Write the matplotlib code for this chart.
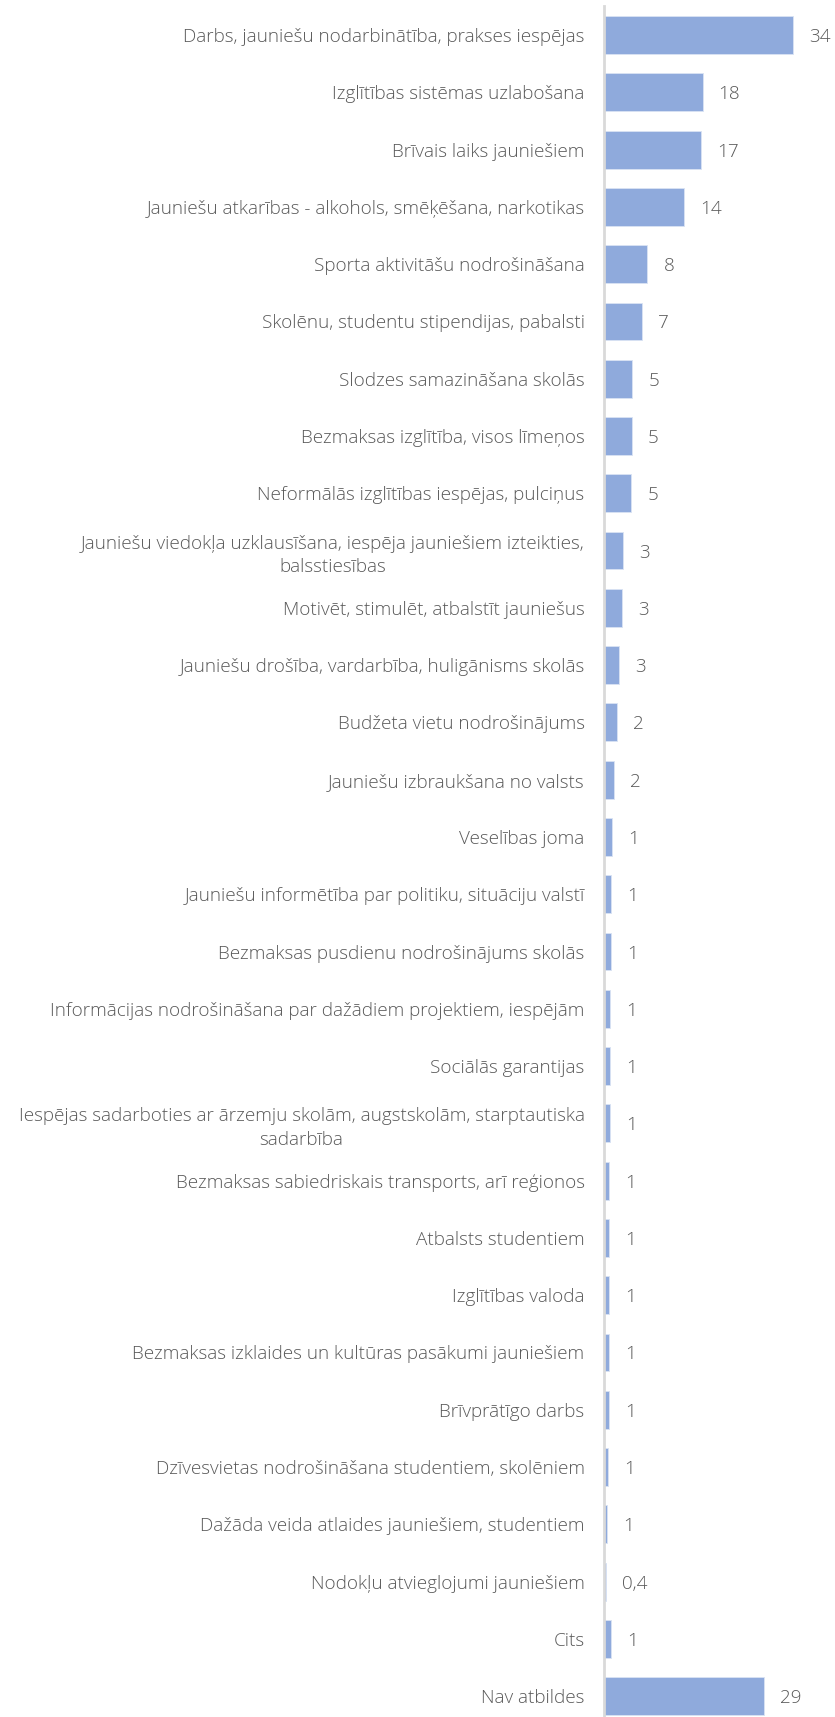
import matplotlib.pyplot as plt
import numpy as np

categories = [
    "Darbs, jauniešu nodarbinātība, prakses iespējas",
    "Izglītības sistēmas uzlabošana",
    "Brīvais laiks jauniešiem",
    "Jauniešu atkarības - alkohols, smēķēšana, narkotikas",
    "Sporta aktivitāšu nodrošināšana",
    "Skolēnu, studentu stipendijas, pabalsti",
    "Slodzes samazināšana skolās",
    "Bezmaksas izglītība, visos līmeņos",
    "Neformālās izglītības iespējas, pulciņus",
    "Jauniešu viedokļa uzklausīšana, iespēja jauniešiem izteikties,\nbalsstiesības",
    "Motivēt, stimulēt, atbalstīt jauniešus",
    "Jauniešu drošība, vardarbība, huligānisms skolās",
    "Budžeta vietu nodrošinājums",
    "Jauniešu izbraukšana no valsts",
    "Veselības joma",
    "Jauniešu informētība par politiku, situāciju valstī",
    "Bezmaksas pusdienu nodrošinājums skolās",
    "Informācijas nodrošināšana par dažādiem projektiem, iespējām",
    "Sociālās garantijas",
    "Iespējas sadarboties ar ārzemju skolām, augstskolām, starptautiska\nsadarbība",
    "Bezmaksas sabiedriskais transports, arī reģionos",
    "Atbalsts studentiem",
    "Izglītības valoda",
    "Bezmaksas izklaides un kultūras pasākumi jauniešiem",
    "Brīvprātīgo darbs",
    "Dzīvesvietas nodrošināšana studentiem, skolēniem",
    "Dažāda veida atlaides jauniešiem, studentiem",
    "Nodokļu atvieglojumi jauniešiem",
    "Cits",
    "Nav atbildes",
]
values = [34.0, 17.7, 17.4, 14.4, 7.8, 6.8, 5.1, 5.0, 4.9, 3.4,
          3.2, 2.7, 2.3, 1.8, 1.4, 1.26, 1.2, 1.08, 1.08, 1.08,
          0.97, 0.97, 0.95, 0.95, 0.9, 0.8, 0.6, 0.4, 1.26, 28.7]


def fmt(v):
    if v < 0.5:
        return f"{v:.1f}".replace(".", ",")
    return f"{v:.0f}"


W, H = 835, 1717
fig = plt.figure(figsize=(W / 100, H / 100), dpi=100)
# axes placed in pixel terms: y-axis line at x=604, rows spaced ~57 px
spacing = 57.28
top = 6.4
height_px = spacing * len(categories)
ax = fig.add_axes([604 / W, 1 - (top + height_px) / H, (W - 604) / W, height_px / H])

y = np.arange(len(categories))
ax.barh(y, values, height=0.66, color="#8faadc", edgecolor="#dae3f3", linewidth=0.6)
ax.set_ylim(len(categories) - 0.5, -0.5)
ax.set_xlim(0, (W - 604) / 5.57)

font = dict(family="Open Sans", fontsize=13.6, color="#595959", fontweight="light")
for yi, v in zip(y, values):
    ax.annotate(fmt(v), (v, yi), xytext=(16, 0), textcoords="offset pixels",
                va="center_baseline", ha="left", **font)

ax.set_yticks(y)
ax.set_yticklabels(categories, multialignment="center", linespacing=1.4, **font)
ax.tick_params(axis="y", length=0, pad=14)
ax.set_xticks([])

for s in ["top", "right", "bottom"]:
    ax.spines[s].set_visible(False)
ax.spines["left"].set_color("#d9d9d9")
ax.spines["left"].set_linewidth(2)

fig.savefig("out.png", dpi=100)
